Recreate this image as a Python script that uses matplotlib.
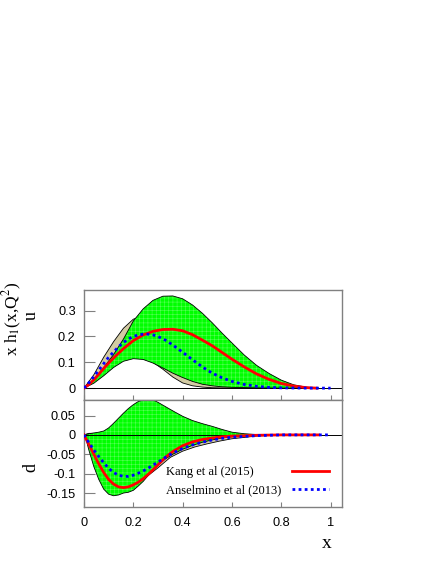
import matplotlib
matplotlib.use("Agg")
import matplotlib.pyplot as plt

plt.rcParams['hatch.linewidth'] = 0.4
plt.rcParams['mathtext.fontset'] = 'stix'

# ---------------- data: u quark (top panel) ----------------
u_x = [0, 0.02, 0.04, 0.06, 0.08, 0.1, 0.13, 0.16, 0.2, 0.24, 0.28, 0.32, 0.36, 0.4, 0.44,
       0.48, 0.52, 0.56, 0.6, 0.65, 0.7, 0.75, 0.8, 0.85, 0.9, 0.943]
u_kang = [0, 0.014, 0.032, 0.054, 0.076, 0.097, 0.126, 0.153, 0.184, 0.206, 0.22, 0.227, 0.228,
          0.222, 0.207, 0.186, 0.164, 0.138, 0.112, 0.082, 0.055, 0.034, 0.018, 0.008, 0.002, 0.0]

ua_x = [0, 0.02, 0.04, 0.06, 0.08, 0.1, 0.12, 0.14, 0.16, 0.18, 0.2, 0.22, 0.24, 0.26, 0.28, 0.3,
        0.33, 0.36, 0.4, 0.44, 0.48, 0.52, 0.56, 0.6, 0.65, 0.7, 0.75, 0.8, 0.9, 1.0]
u_ans = [0, 0.021, 0.045, 0.07, 0.095, 0.12, 0.14, 0.16, 0.177, 0.19, 0.2, 0.206, 0.209, 0.209,
         0.206, 0.2, 0.186, 0.167, 0.139, 0.11, 0.082, 0.058, 0.04, 0.026, 0.014, 0.007, 0.003,
         0.001, 0, 0]

ub_hi_x = [0, 0.04, 0.08, 0.12, 0.16, 0.2, 0.24, 0.28, 0.32, 0.36, 0.4, 0.44, 0.48, 0.52, 0.56,
           0.6, 0.65, 0.7, 0.75, 0.8, 0.85, 0.9, 0.95]
u_kang_hi = [0, 0.03, 0.08, 0.13, 0.19, 0.26, 0.307, 0.34, 0.356, 0.357, 0.346, 0.322, 0.29,
             0.253, 0.213, 0.175, 0.128, 0.088, 0.057, 0.031, 0.013, 0.004, 0]
ub_lo_x = [0, 0.04, 0.08, 0.12, 0.16, 0.2, 0.24, 0.28, 0.32, 0.36, 0.4, 0.44, 0.48, 0.52, 0.56,
           0.6, 0.7, 0.8, 0.95]
u_kang_lo = [0, 0.019, 0.048, 0.08, 0.104, 0.114, 0.111, 0.097, 0.078, 0.058, 0.041, 0.026,
             0.015, 0.009, 0.005, 0.003, 0.001, 0, 0]

uc_hi_x = [0, 0.04, 0.08, 0.12, 0.16, 0.2, 0.24, 0.28, 0.32, 0.36, 0.4, 0.45, 0.5, 0.55, 0.6,
           0.7, 0.8, 0.9]
u_ans_hi = [0, 0.052, 0.12, 0.18, 0.232, 0.267, 0.28, 0.275, 0.258, 0.235, 0.21, 0.175, 0.14,
            0.105, 0.075, 0.033, 0.01, 0]
uc_lo_x = [0, 0.04, 0.08, 0.12, 0.16, 0.2, 0.24, 0.28, 0.32, 0.36, 0.4, 0.44, 0.48, 0.52, 0.56,
           0.6, 0.7, 0.8, 0.9]
u_ans_lo = [0, 0.03, 0.065, 0.095, 0.11, 0.118, 0.115, 0.1, 0.073, 0.043, 0.02, 0.009, 0.004,
            0.0015, 0.0005, 0, 0, 0, 0]

# ---------------- data: d quark (bottom panel) ----------------
d_x = [0, 0.02, 0.04, 0.06, 0.08, 0.1, 0.12, 0.14, 0.16, 0.18, 0.2, 0.22, 0.24, 0.26, 0.28, 0.3,
       0.33, 0.36, 0.4, 0.44, 0.48, 0.52, 0.56, 0.6, 0.7, 0.8, 0.95]
d_kang = [0, -0.025, -0.05, -0.075, -0.097, -0.115, -0.127, -0.134, -0.136, -0.134, -0.129,
          -0.122, -0.113, -0.102, -0.09, -0.077, -0.058, -0.043, -0.028, -0.018, -0.012, -0.008,
          -0.005, -0.003, -0.001, 0, 0]

da_x = [0, 0.02, 0.04, 0.06, 0.08, 0.1, 0.12, 0.14, 0.16, 0.18, 0.2, 0.22, 0.24, 0.26, 0.28, 0.3,
        0.33, 0.36, 0.4, 0.44, 0.48, 0.52, 0.56, 0.6, 0.7, 0.8, 1.0]
d_ans = [0, -0.02, -0.039, -0.056, -0.072, -0.086, -0.097, -0.104, -0.107, -0.107, -0.104,
         -0.099, -0.093, -0.086, -0.078, -0.07, -0.058, -0.047, -0.035, -0.026, -0.019, -0.013,
         -0.009, -0.006, -0.002, 0, 0]

db_hi_x = [0, 0.02, 0.04, 0.06, 0.08, 0.1, 0.12, 0.14, 0.16, 0.18, 0.2, 0.22, 0.24, 0.26, 0.28,
           0.3, 0.33, 0.36, 0.4, 0.44, 0.48, 0.52, 0.56, 0.6, 0.65, 0.7, 0.8]
d_kang_hi = [0, 0.003, 0.005, 0.007, 0.01, 0.018, 0.03, 0.043, 0.056, 0.068, 0.078, 0.086, 0.09,
             0.092, 0.09, 0.084, 0.073, 0.062, 0.048, 0.037, 0.029, 0.022, 0.014, 0.007, 0.003,
             0.001, 0]
db_lo_x = [0, 0.01, 0.02, 0.04, 0.06, 0.08, 0.1, 0.12, 0.14, 0.16, 0.18, 0.2, 0.22, 0.24, 0.26,
           0.28, 0.3, 0.33, 0.36, 0.4, 0.44, 0.48, 0.52, 0.56, 0.6, 0.7, 0.8]
d_kang_lo = [0, -0.015, -0.04, -0.082, -0.115, -0.14, -0.153, -0.157, -0.155, -0.15, -0.148,
             -0.143, -0.132, -0.12, -0.105, -0.09, -0.078, -0.062, -0.05, -0.037, -0.027,
             -0.019, -0.013, -0.008, -0.005, -0.001, 0]

dc_x = [0, 0.02, 0.04, 0.06, 0.1, 0.15, 0.2, 0.25, 0.3, 0.35, 0.4, 0.45, 0.5, 0.55, 0.6, 0.7, 0.8]
d_ans_hi = [0, 0.004, 0.004, 0.0, -0.02, -0.045, -0.055, -0.05, -0.04, -0.03, -0.022, -0.016,
            -0.011, -0.007, -0.004, -0.001, 0]
d_ans_lo = [0, -0.025, -0.05, -0.07, -0.1, -0.12, -0.123, -0.11, -0.085, -0.058, -0.042, -0.031,
            -0.023, -0.016, -0.01, -0.003, 0]

u_ticks = [0, 0.1, 0.2, 0.3]
u_ticklabels = ['0', '0.1', '0.2', '0.3']
d_ticks = [-0.15, -0.1, -0.05, 0, 0.05]
d_ticklabels = ['-0.15', '-0.1', '-0.05', '0', '0.05']
x_ticks = [0, 0.2, 0.4, 0.6, 0.8, 1.0]
x_ticklabels = ['0', '0.2', '0.4', '0.6', '0.8', '1']

label_kang = 'Kang et al (2015)'
label_ans = 'Anselmino et al (2013)'

# ---------------- styling ----------------
GREEN = '#00ff00'
TAN = '#d3cba3'
SPINE = '#808080'
serif = ['Liberation Serif', 'DejaVu Serif']
sans = ['Liberation Sans', 'DejaVu Sans']

fig = plt.figure(figsize=(4.36, 5.64), dpi=100)
W, H = 436, 564
left, right = 84, 341.7
ax_u = fig.add_axes([left / W, 1 - 400 / H, (right - left) / W, 110 / H])
ax_d = fig.add_axes([left / W, 1 - 507 / H, (right - left) / W, 107 / H])


def band(ax, xh, hi, xl, lo, color, z, hatch=False):
    px = list(xh) + list(xl)[::-1]
    py = list(hi) + list(lo)[::-1]
    ax.fill(px, py, facecolor=color, edgecolor='none', linewidth=0, zorder=z)
    if hatch:
        ax.fill(px, py, facecolor='none', edgecolor='#55ff55', hatch='++++', linewidth=0,
                zorder=z + 0.01)
    ax.plot(xh, hi, color='black', lw=0.6, zorder=z + 0.02)
    ax.plot(xl, lo, color='black', lw=0.6, zorder=z + 0.02)


def style(ax, yticks, ylabels, show_x):
    ax.set_xlim(0, 1.045)
    ax.set_yticks(yticks)
    ax.set_yticklabels(ylabels, fontfamily=sans, fontsize=9.2)
    ax.set_xticks(x_ticks)
    if show_x:
        ax.set_xticklabels(x_ticklabels, fontfamily=sans, fontsize=9.2)
    else:
        ax.set_xticklabels([])
    for s in ax.spines.values():
        s.set_color(SPINE)
        s.set_linewidth(1.0)
    ax.tick_params(axis='y', direction='in', length=8, width=0.8, color=SPINE, pad=6)
    ax.tick_params(axis='x', direction='in', length=3.5, width=0.8, color=SPINE, pad=7)
    ax.axhline(0, color='black', lw=0.7, zorder=2.5)


# top panel
band(ax_u, uc_hi_x, u_ans_hi, uc_lo_x, u_ans_lo, TAN, 2.0)
band(ax_u, ub_hi_x, u_kang_hi, ub_lo_x, u_kang_lo, GREEN, 2.1, hatch=True)
ax_u.plot(u_x, u_kang, color='red', lw=2.0, zorder=3)
ax_u.plot(ua_x, u_ans, color='blue', lw=2.0, linestyle=(0, (1, 1.2)), zorder=3.1)
ax_u.set_ylim(-0.046, 0.38)
style(ax_u, u_ticks, u_ticklabels, False)

# bottom panel
band(ax_d, dc_x, d_ans_hi, dc_x, d_ans_lo, TAN, 2.0)
band(ax_d, db_hi_x, d_kang_hi, db_lo_x, d_kang_lo, GREEN, 2.1, hatch=True)
ax_d.plot(d_x, d_kang, color='red', lw=2.0, zorder=3, label=label_kang)
ax_d.plot(da_x, d_ans, color='blue', lw=2.0, linestyle=(0, (1, 1.2)), zorder=3.1,
          label=label_ans)
ax_d.set_ylim(-0.186, 0.09)
style(ax_d, d_ticks, d_ticklabels, True)

leg = ax_d.legend(loc='lower right', bbox_to_anchor=(0.993, -0.008), frameon=False,
                  markerfirst=False, handlelength=2.9, handletextpad=0.9,
                  labelspacing=0.5, borderpad=0.4, prop={'family': serif, 'size': 9})

# left-align legend labels while keeping the line samples in one column
renderer = fig.canvas.get_renderer()
texts = leg.get_texts()
widths = [t.get_window_extent(renderer).width for t in texts]
maxw = max(widths)
try:
    rows = leg._legend_handle_box.get_children()[0].get_children()
    for row, w in zip(rows, widths):
        row.sep = row.sep + (maxw - w) * 72.0 / fig.dpi
except Exception:
    pass

# axis labels
fig.text(12 / W, 1 - 319 / H, r'x h$_1$(x,Q$^2$)', rotation=90, ha='center', va='center',
         fontfamily=serif, fontsize=12.5)
fig.text(31 / W, 1 - 316 / H, 'u', rotation=90, ha='center', va='center',
         fontfamily=serif, fontsize=13)
fig.text(31 / W, 1 - 468 / H, 'd', rotation=90, ha='center', va='center',
         fontfamily=serif, fontsize=13)
fig.text(327 / W, 1 - 544 / H, 'x', ha='center', va='center',
         fontfamily=serif, fontsize=14)

fig.savefig('out.png', dpi=100)
